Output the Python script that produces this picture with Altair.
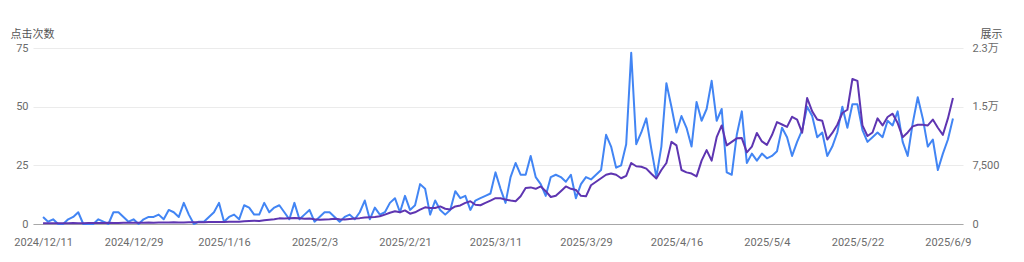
import altair as alt
import pandas as pd

# ---- data -------------------------------------------------------------
start_date = "2024-12-11"
n_days = 182
dates = pd.date_range(start_date, periods=n_days, freq="D").strftime("%Y-%m-%d").tolist()

clicks = [
    3, 1, 2, 0, 0, 2, 3, 5, 0, 0,
    0, 2, 1, 0, 5, 5, 3, 1, 2, 0,
    2, 3, 3, 4, 2, 6, 5, 3, 9, 4,
    0, 1, 1, 3, 5, 9, 1, 3, 4, 2,
    8, 7, 4, 4, 9, 5, 7, 8, 5, 2,
    9, 2, 4, 6, 1, 3, 5, 5, 3, 1,
    3, 4, 2, 5, 10, 2, 7, 4, 5, 9,
    11, 5, 12, 6, 8, 17, 15, 4, 10, 6,
    4, 6, 14, 11, 12, 6, 10, 11, 12, 13,
    22, 15, 9, 20, 26, 21, 21, 29, 20, 17,
    12, 20, 21, 20, 18, 21, 11, 17, 20, 19,
    21, 23, 38, 33, 24, 25, 34, 73, 34, 39,
    45, 32, 20, 33, 60, 50, 39, 46, 41, 33,
    52, 44, 49, 61, 44, 49, 22, 21, 38, 48,
    26, 30, 27, 30, 28, 29, 31, 41, 37, 29,
    35, 40, 50, 46, 37, 39, 29, 33, 39, 50,
    41, 51, 51, 40, 35, 37, 39, 37, 44, 42,
    48, 35, 29, 43, 54, 45, 33, 36, 23, 30,
    36, 45,
]

impressions = [
    90, 80, 100, 90, 110, 100, 120, 110, 100, 120,
    130, 120, 140, 150, 130, 140, 160, 150, 170, 160,
    170, 180, 160, 190, 200, 180, 210, 190, 200, 220,
    210, 230, 220, 240, 250, 270, 260, 290, 280, 300,
    360, 390, 420, 390, 480, 540, 600, 720, 690, 750,
    780, 720, 660, 690, 600, 540, 570, 600, 660, 600,
    570, 630, 690, 750, 840, 870, 900, 990, 1200, 1440,
    1620, 1500, 1740, 1320, 1500, 1830, 2130, 2040, 2040, 2250,
    1950, 1860, 2250, 2370, 2700, 2910, 2460, 2400, 2700, 3000,
    3300, 3300, 3120, 3000, 2910, 3540, 4590, 4680, 4500, 4800,
    4200, 3450, 3600, 4200, 4800, 4500, 4350, 3600, 3540, 4950,
    5400, 5850, 6300, 6450, 6300, 5850, 6150, 7800, 7380, 7320,
    7080, 6420, 5820, 6900, 7800, 10500, 10050, 6900, 6600, 6450,
    6090, 8100, 9450, 8100, 11100, 12600, 10050, 10500, 10950, 10980,
    9150, 9900, 11640, 10560, 10110, 11370, 13020, 12720, 12420, 13710,
    13350, 11670, 16110, 14400, 13350, 13200, 10800, 11640, 12690, 14190,
    14610, 18540, 18300, 12600, 11250, 11700, 13500, 12600, 13680, 14100,
    12900, 11100, 11700, 12480, 12690, 12690, 12600, 13350, 12300, 11400,
    13500, 16110,
]

tick_dates = [
    (2024, 12, 11), (2024, 12, 29), (2025, 1, 16), (2025, 2, 3),
    (2025, 2, 21), (2025, 3, 11), (2025, 3, 29), (2025, 4, 16),
    (2025, 5, 4), (2025, 5, 22), (2025, 6, 9),
]
left_ticks = [0, 25, 50, 75]
right_ticks = [0, 7500, 15000, 22500]

df = pd.DataFrame({"date": dates, "clicks": clicks, "impressions": impressions})

# ---- styles -----------------------------------------------------------
FONT = "Roboto, 'Noto Sans CJK SC', sans-serif"
LABEL_COLOR = "#6b6b6b"
BLUE = "#4285F4"
PURPLE = "#5E35B1"

x_scale = alt.Scale(
    type="utc",
    domain=[
        alt.DateTime(year=2024, month=12, date=9, utc=True),
        alt.DateTime(year=2025, month=6, date=12, utc=True),
    ],
)

x_axis = alt.Axis(
    values=[alt.DateTime(year=y, month=m, date=d, utc=True) for (y, m, d) in tick_dates],
    labelExpr="utcFormat(datum.value, '%Y/%-m/%-d')",
    grid=False,
    ticks=False,
    tickSize=0,
    domain=True,
    domainColor="#a8a8a8",
    domainWidth=1,
    labelPadding=12,
    labelFontSize=11,
    labelColor=LABEL_COLOR,
    labelFont=FONT,
    labelOverlap=False,
    title=None,
)

left_axis = alt.Axis(
    values=left_ticks,
    grid=True,
    gridColor="#ebebeb",
    domain=False,
    ticks=False,
    tickSize=0,
    labelPadding=5,
    labelFontSize=11,
    labelColor=LABEL_COLOR,
    labelFont=FONT,
    title="点击次数",
    titleAngle=0,
    titleAlign="left",
    titleBaseline="alphabetic",
    titleX=-23,
    titleY=-11,
    titleFontSize=11,
    titleFontWeight="normal",
    titleColor="#555555",
    titleFont=FONT,
)

right_axis = alt.Axis(
    values=right_ticks,
    orient="right",
    grid=False,
    domain=False,
    ticks=False,
    tickSize=0,
    labelPadding=9,
    labelFontSize=11,
    labelColor=LABEL_COLOR,
    labelFont=FONT,
    labelExpr="datum.value >= 10000 ? format(datum.value / 10000, '.1f') + '万' : format(datum.value, ',')",
    title="展示",
    titleAngle=0,
    titleAlign="left",
    titleBaseline="alphabetic",
    titleX=17,
    titleY=-11,
    titleFontSize=11,
    titleFontWeight="normal",
    titleColor="#555555",
    titleFont=FONT,
)

base = alt.Chart(df).encode(x=alt.X("date:T", scale=x_scale, axis=x_axis))

clicks_line = base.mark_line(color=BLUE, strokeWidth=2, strokeJoin="round").encode(
    y=alt.Y("clicks:Q", scale=alt.Scale(domain=[0, 75], nice=False), axis=left_axis)
)

impr_line = base.mark_line(color=PURPLE, strokeWidth=2, strokeJoin="round").encode(
    y=alt.Y("impressions:Q", scale=alt.Scale(domain=[0, 22500], nice=False), axis=right_axis)
)

chart = (
    alt.layer(clicks_line, impr_line)
    .resolve_scale(y="independent")
    .properties(
        width=930,
        height=176,
        padding={"left": 33, "top": 48, "right": 61, "bottom": 38},
        autosize=alt.AutoSizeParams(type="none"),
        background="white",
    )
    .configure_view(stroke=None)
)

chart.save("out.html", embed_options={"renderer": "svg", "actions": False})
